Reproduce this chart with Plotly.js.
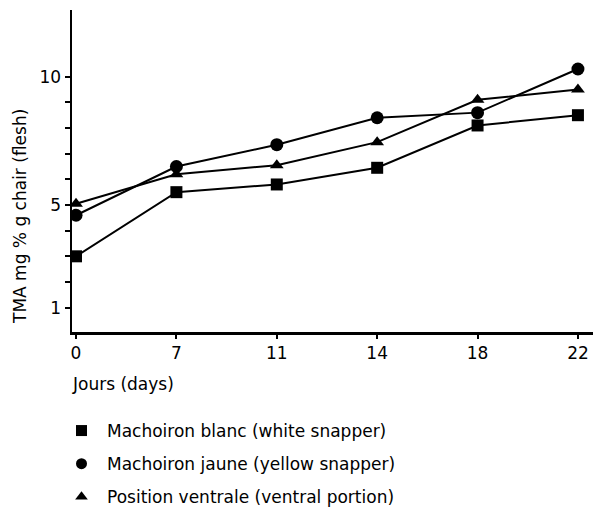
<!DOCTYPE html>
<html>
<head>
<meta charset="utf-8">
<script src="https://cdn.plot.ly/plotly-3.0.1.min.js"></script>
<style>html,body{margin:0;padding:0;background:#fff;}#chart{width:594px;height:508px;}</style>
</head>
<body>
<div id="chart"></div>
<script>
const days = ['0', '7', '11', '14', '18', '22'];
const blanc = [3.0, 5.5, 5.8, 6.45, 8.1, 8.5];
const jaune = [4.6, 6.5, 7.35, 8.4, 8.6, 10.3];
const ventrale = [5.05, 6.2, 6.55, 7.45, 9.1, 9.5];
const seriesNames = ['Machoiron blanc (white snapper)', 'Machoiron jaune (yellow snapper)', 'Position ventrale (ventral portion)'];
const yTickVals = [1, 2, 3, 4, 5, 6, 7, 8, 9, 10];
const yTickText = ['1', '', '', '', '5', '', '', '', '', '10'];
const yTitle = 'TMA mg % g chair (flesh)';
const xTitle = 'Jours (days)';

const FONT = 'DejaVu Sans, sans-serif';
const symbols = ['square', 'circle', 'triangle-up'];
const sizes = [12, 13, 12];
const allY = [blanc, jaune, ventrale];

const traces = [];
allY.forEach((ys, i) => {
  traces.push({
    x: days, y: ys, type: 'scatter', mode: 'lines+markers',
    line: {color: '#000', width: 2},
    marker: {symbol: symbols[i], size: sizes[i], color: '#000'},
    showlegend: false, hoverinfo: 'skip'
  });
});
allY.forEach((ys, i) => {
  traces.push({
    x: [null], y: [null], type: 'scatter', mode: 'markers',
    name: seriesNames[i], legendgroup: 'g' + i,
    marker: {symbol: symbols[i], size: 11, color: '#000'},
    showlegend: true
  });
});

const layout = {
  width: 594, height: 508,
  margin: {l: 72, r: 1, t: 10, b: 176, autoexpand: false},
  paper_bgcolor: '#fff', plot_bgcolor: '#fff',
  font: {family: FONT, color: '#000', size: 17},
  showlegend: true,
  legend: {
    xref: 'container', yref: 'container',
    x: 56 / 594, xanchor: 'left', y: 1 - 413 / 508, yanchor: 'top',
    font: {family: FONT, size: 17, color: '#000'},
    tracegroupgap: 8, itemwidth: 41,
    bgcolor: 'rgba(0,0,0,0)'
  },
  xaxis: {
    type: 'category', range: [-0.04, 5.15],
    showline: true, linecolor: '#000', linewidth: 2.5,
    ticks: 'outside', ticklen: 4, tickwidth: 2, tickcolor: '#000',
    showgrid: false, zeroline: false,
    tickfont: {family: FONT, size: 17, color: '#000'},
    fixedrange: true
  },
  yaxis: {
    range: [0.05, 12.6],
    tickmode: 'array', tickvals: yTickVals, ticktext: yTickText,
    showline: true, linecolor: '#000', linewidth: 2.5,
    ticks: 'outside', ticklen: 5, tickwidth: 2, tickcolor: '#000',
    showgrid: false, zeroline: false,
    tickfont: {family: FONT, size: 17, color: '#000'},
    fixedrange: true
  },
  annotations: [
    {text: yTitle, xref: 'paper', yref: 'paper', x: -0.1, xanchor: 'center',
     y: 0.36, yanchor: 'middle', textangle: -90, showarrow: false,
     font: {family: FONT, size: 17, color: '#000'}},
    {text: xTitle, xref: 'paper', yref: 'paper', x: -0.003, xanchor: 'left',
     y: -0.16, yanchor: 'middle', showarrow: false,
     font: {family: FONT, size: 17, color: '#000'}}
  ]
};

Plotly.newPlot('chart', traces, layout, {displayModeBar: false, staticPlot: true});
</script>
</body>
</html>
